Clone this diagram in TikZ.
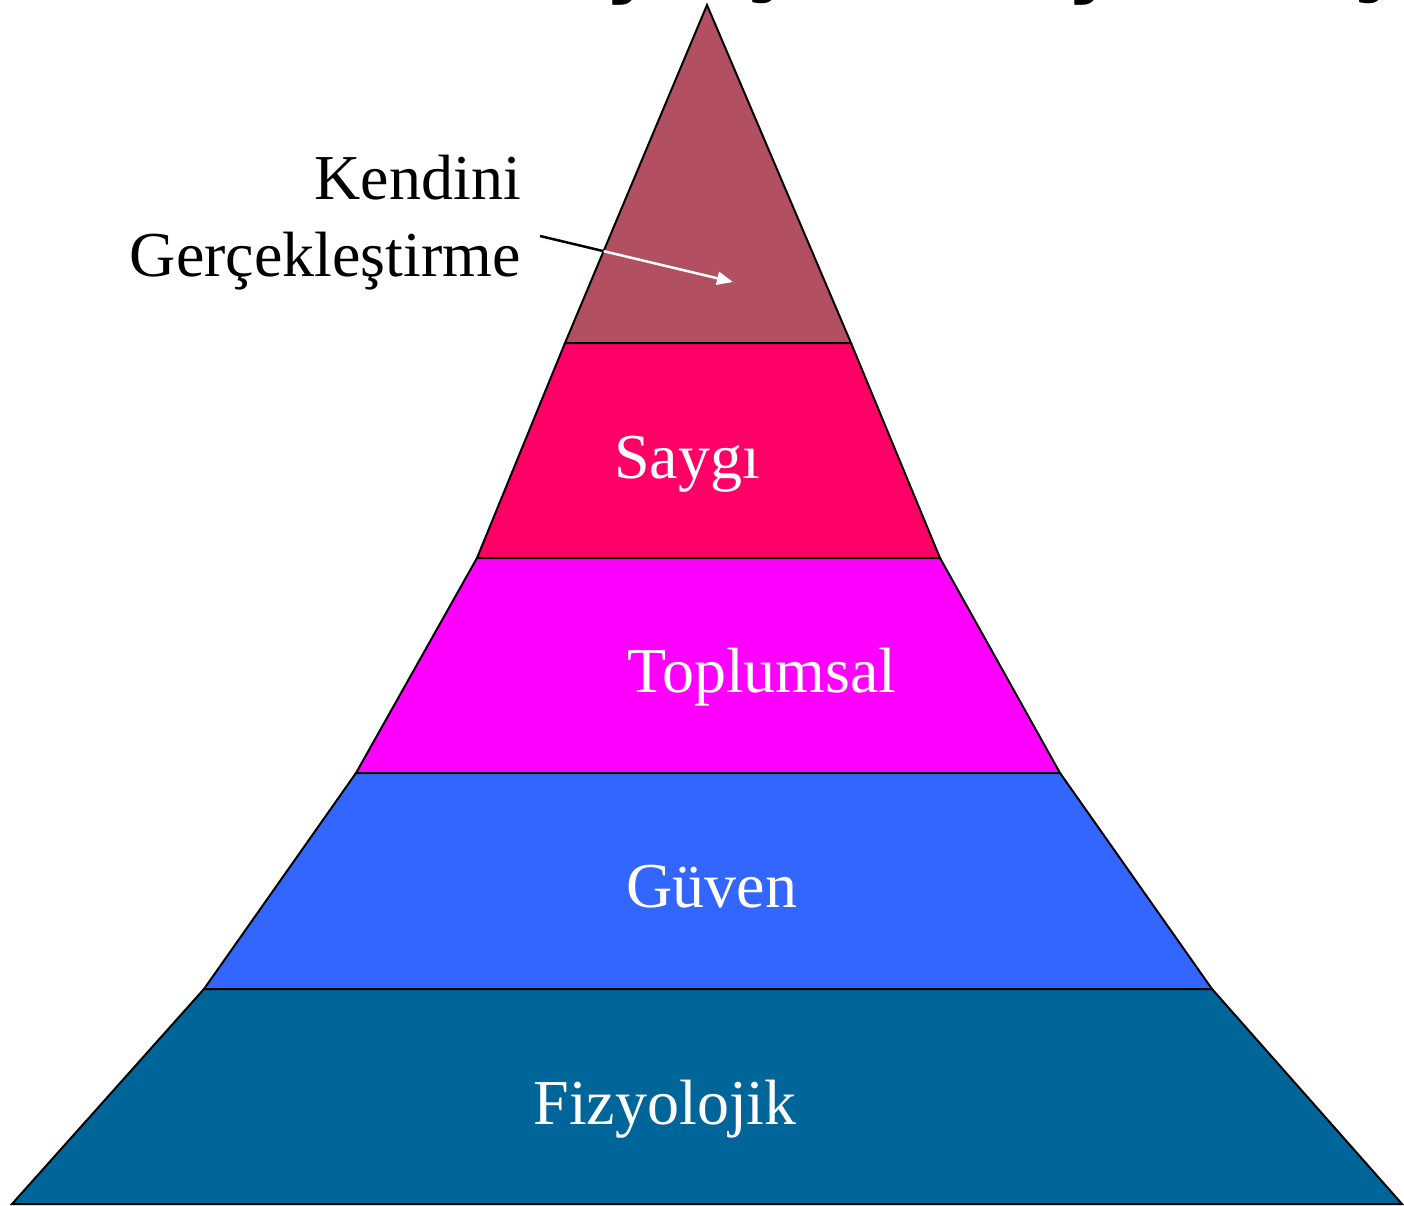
\documentclass[tikz,border=0pt]{standalone}
\usepackage{fontspec}
\setmainfont{Liberation Serif}
\newfontfamily\titlefont{DejaVu Sans}
\usetikzlibrary{arrows.meta,calc}

\definecolor{kendini_color}{RGB}{178,79,96}
\definecolor{saygi_color}{RGB}{255,0,102}
\definecolor{toplumsal_color}{RGB}{255,0,255}
\definecolor{guven_color}{RGB}{51,102,255}
\definecolor{fizyolojik_color}{RGB}{0,102,153}

\begin{document}
\begin{tikzpicture}[x=1pt, y=-1pt,
		layer_style/.style={draw=black,line width=2pt,line join=miter},
		label_style/.style={anchor=base,inner sep=0pt,text=white,font=\fontsize{64}{76}\selectfont},
		arrow_style/.style={line width=2.5pt}]
		\useasboundingbox (0,0) rectangle (1404,1206);
		% title, cut off by the page
		\node[anchor=base west,inner sep=0pt,font=\titlefont\fontsize{105}{120}\selectfont] (title) at (436,-16) {İhtiyaçlar Hiyerarşisi};
		\coordinate (apex) at (707,5);
		\coordinate (l1) at (565,343);  \coordinate (r1) at (851,343);
		\coordinate (l2) at (477,558);  \coordinate (r2) at (940,558);
		\coordinate (l3) at (356,773);  \coordinate (r3) at (1060,773);
		\coordinate (l4) at (204,989);  \coordinate (r4) at (1212,989);
		\coordinate (l5) at (12,1204);  \coordinate (r5) at (1402,1204);
		\draw[layer_style,fill=kendini_color] (apex) -- (r1) -- (l1) -- cycle;
		\draw[layer_style,fill=saygi_color] (l1) -- (r1) -- (r2) -- (l2) -- cycle;
		\draw[layer_style,fill=toplumsal_color] (l2) -- (r2) -- (r3) -- (l3) -- cycle;
		\draw[layer_style,fill=guven_color] (l3) -- (r3) -- (r4) -- (l4) -- cycle;
		\draw[layer_style,fill=fizyolojik_color] (l4) -- (r4) -- (r5) -- (l5) -- cycle;
		% labels
		\node[label_style] (saygi) at (687,478) {Saygı};
		\node[label_style] (toplumsal) at (762,692) {Toplumsal};
		\node[label_style] (guven) at (712,907) {Güven};
		\node[label_style] (fizyolojik) at (665,1124) {Fizyolojik};
		\node[label_style,text=black,align=right,anchor=base east] (kendini) at (521,276) {Kendini\\Gerçekleştirme};
		% arrow into the top
		\coordinate (arrow_start) at (540,236);
		\coordinate (arrow_end) at (733,282);
		\coordinate (arrow_cross) at ($(arrow_start)!0.33!(arrow_end)$);
		\draw[arrow_style,black] (arrow_start) -- (arrow_cross);
		\draw[arrow_style,white,-{Triangle[length=16pt,width=13pt]}] (arrow_cross) -- (arrow_end);
\end{tikzpicture}
\end{document}
